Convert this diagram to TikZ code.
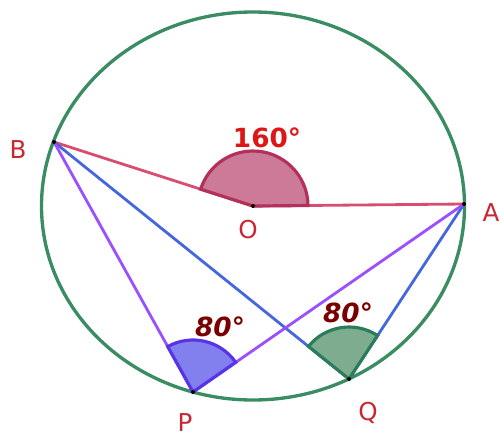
\documentclass[tikz,border=0pt]{standalone}
\usepackage{fontspec}
\setmainfont{DejaVu Sans}
\usepackage{tikz}
\usetikzlibrary{calc}
\usepackage{xcolor}

\definecolor{circgreen}{RGB}{58,140,98}
\definecolor{chordred}{RGB}{216,78,112}
\definecolor{chordblue}{RGB}{70,102,222}
\definecolor{chordpurple}{RGB}{155,80,255}
\definecolor{wedgered}{RGB}{205,122,152}
\definecolor{wedgeredline}{RGB}{178,48,90}
\definecolor{wedgeblue}{RGB}{130,128,238}
\definecolor{wedgeblueline}{RGB}{88,52,230}
\definecolor{wedgegreen}{RGB}{126,172,142}
\definecolor{wedgegreenline}{RGB}{42,124,90}
\definecolor{labelred}{RGB}{200,40,50}
\definecolor{bigred}{RGB}{222,22,22}
\definecolor{darkred}{RGB}{122,0,0}

\begin{document}
\begin{tikzpicture}[
        x=0.02cm, y=0.02cm,
        every node/.style={font=\fontsize{14}{16}\selectfont},
        ptlabel/.style={text=labelred},
        anglelabel/.style={font=\fontsize{15}{17}\selectfont\bfseries},
        chord/.style={line width=1.6pt},
        wedge/.style={line width=1.8pt}
      ]
        \useasboundingbox (0,0) rectangle (499,437);

        % Circle --------------------------------------------------
        \coordinate (O) at (253,231);  % centre
        \draw[circgreen,line width=1.9pt] (O) ellipse [x radius=211.5, y radius=194];

        % Points on the circle
        \coordinate (B) at (54,295);
        \coordinate (A) at (464,233);
        \coordinate (P) at (193,45);
        \coordinate (Q) at (349,58);

        % Chords --------------------------------------------------
        \draw[chord,chordred]    (B) -- (O) -- (A);
        \draw[chord,chordblue]   (B) -- (Q) -- (A);
        \draw[chord,chordpurple] (B) -- (P) -- (A);

        % Central angle AOB ---------------------------------------
        \filldraw[wedge,draw=wedgeredline,fill=wedgered]
          (O) -- ++(0.5:55) arc[start angle=0.5, end angle=162.2, radius=55] -- cycle;

        % Inscribed angles APB and AQB ----------------------------
        \filldraw[wedge,draw=wedgeblueline,fill=wedgeblue]
          (P) -- ++(34.8:52) arc[start angle=34.8, end angle=119.1, radius=52] -- cycle;
        \filldraw[wedge,draw=wedgegreenline,fill=wedgegreen]
          (Q) -- ++(56.7:52) arc[start angle=56.7, end angle=141.2, radius=52] -- cycle;

        % Points
        \foreach \pt in {O,A,B,P,Q}
          \fill (\pt) circle (2);

        % Labels --------------------------------------------------
        \node[ptlabel] (labB) at (18,287) {B};
        \node[ptlabel] (labA) at (491,224) {A};
        \node[ptlabel] (labO) at (248,207) {O};
        \node[ptlabel] (labP) at (185,14)  {P};
        \node[ptlabel] (labQ) at (368,24)  {Q};

        \node[anglelabel,text=bigred]  (ang160) at (267,299) {160°};
        \node[anglelabel,text=darkred] (angP)   at (220,110) {\itshape 80°};
        \node[anglelabel,text=darkred] (angQ)   at (348,124) {\itshape 80°};

      \end{tikzpicture}
\end{document}
